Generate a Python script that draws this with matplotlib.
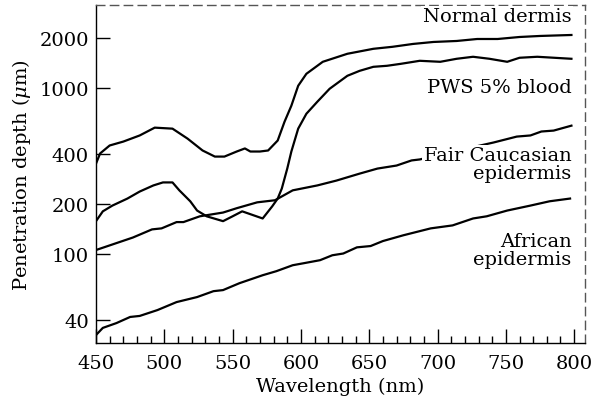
# Penetration depth vs wavelength for skin layers (log scale)

import numpy as np
from matplotlib import pyplot as plt
from matplotlib.ticker import FixedLocator, MultipleLocator, NullLocator

plt.rcParams['font.family'] = 'DejaVu Serif'
plt.rcParams['mathtext.fontset'] = 'dejavuserif'

## Data (wavelength in nm, depth in um)
dermis_wl = [450, 453, 460, 470, 482, 493, 506, 517, 528, 537, 544, 553, 559, 563, 570, 576,
             583, 588, 593, 598, 604, 616, 634, 653, 667, 682, 697, 714, 729, 744, 760, 775, 798]
dermis_d = [350, 403, 450, 475, 517, 576, 568, 495, 420, 386, 386, 414, 432, 414, 414, 420,
            482, 625, 780, 1028, 1213, 1432, 1600, 1714, 1762, 1833, 1884, 1910, 1963, 1963,
            2018, 2047, 2075]

pws_wl = [450, 455, 462, 473, 482, 492, 499, 506, 511, 519, 524, 531, 543, 550, 557, 563, 572,
          579, 583, 586, 590, 593, 598, 604, 612, 621, 634, 643, 653, 663, 673, 687, 702, 714,
          726, 738, 751, 760, 773, 798]
pws_d = [158, 181, 196, 216, 238, 259, 270, 270, 242, 208, 183, 169, 158, 169, 181, 174, 164,
         194, 216, 248, 327, 414, 568, 698, 824, 986, 1180, 1264, 1336, 1355, 1392, 1452, 1432,
         1493, 1535, 1493, 1432, 1514, 1535, 1493]

fair_wl = [450, 460, 477, 491, 498, 509, 514, 526, 543, 553, 568, 581, 594, 612, 626, 643, 656,
           670, 681, 687, 714, 741, 758, 768, 776, 785, 798]
fair_d = [106, 113, 126, 141, 143, 156, 156, 169, 178, 189, 205, 211, 242, 259, 277, 305, 327,
          341, 366, 371, 418, 469, 509, 517, 546, 553, 592]

african_wl = [450, 455, 465, 475, 482, 495, 509, 524, 536, 543, 555, 572, 582, 594, 602, 614,
              623, 631, 641, 651, 660, 675, 695, 711, 726, 736, 751, 768, 782, 797]
african_d = [32.7, 36.1, 38.6, 42.0, 42.6, 46.2, 51.6, 55.3, 60.0, 60.9, 67.0, 74.8, 79.1, 85.9,
             88.3, 92.1, 98.6, 101, 110, 112, 120, 130, 143, 149, 164, 169, 183, 196, 208, 216]

y_ticks = [40, 100, 200, 400, 1000, 2000]

fig = plt.figure(figsize=(5.94, 4.02), dpi=100)
ax = fig.add_axes([0.1616, 0.1443, 0.8234, 0.8407])

for wl, d in [(dermis_wl, dermis_d), (pws_wl, pws_d), (fair_wl, fair_d), (african_wl, african_d)]:
    ax.plot(wl, d, color='black', lw=1.6)

ax.set_yscale('log')
ax.set_xlim(450, 808)
ax.set_ylim(29.3, 3140)

ax.yaxis.set_major_locator(FixedLocator(y_ticks))
ax.yaxis.set_minor_locator(NullLocator())
ax.set_yticklabels([str(t) for t in y_ticks])
ax.xaxis.set_major_locator(MultipleLocator(50))
ax.xaxis.set_minor_locator(MultipleLocator(10))

ax.tick_params(which='major', direction='in', length=10, width=1, labelsize=14, pad=8)
ax.tick_params(which='minor', direction='in', length=5, width=1)
ax.tick_params(axis='y', pad=5)
ax.tick_params(top=False, right=False, which='both')

ax.spines['top'].set_linestyle((0, (6, 4)))
ax.spines['right'].set_linestyle((0, (6, 4)))
ax.spines['top'].set_color('#555555')
ax.spines['right'].set_color('#555555')
for s in ax.spines.values():
    s.set_linewidth(1)

ax.set_xlabel('Wavelength (nm)', fontsize=14, labelpad=3)
ax.set_ylabel(r'Penetration depth ($\mu$m)', fontsize=14, labelpad=5)

## Curve labels
lbl = dict(ha='right', va='center', fontsize=14, linespacing=1.0,
           bbox=dict(facecolor='white', edgecolor='none', pad=1))
ax.text(798, 2700, 'Normal dermis', **lbl)
ax.text(798, 1010, 'PWS 5% blood', **lbl)
ax.text(798, 348, 'Fair Caucasian\nepidermis', **lbl)
ax.text(798, 106, 'African\nepidermis', **lbl)

plt.savefig('out.png', dpi=100)
